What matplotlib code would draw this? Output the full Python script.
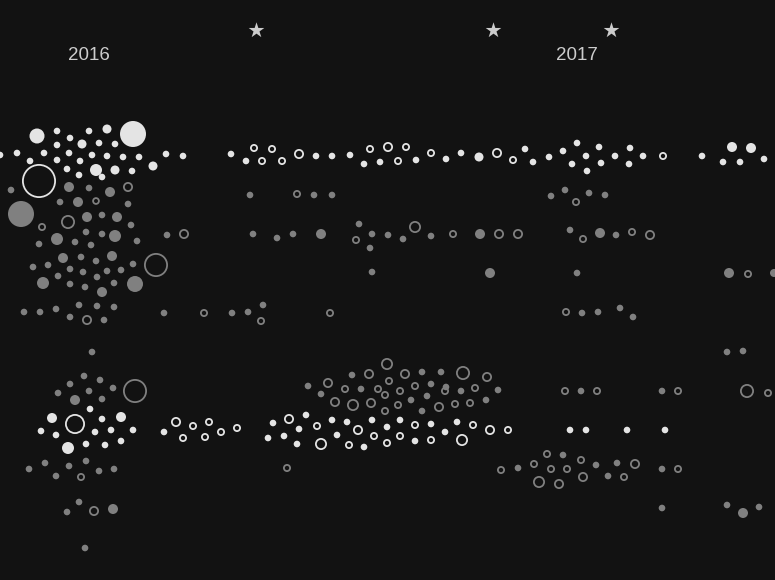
import numpy as np
import matplotlib
matplotlib.use("Agg")
import matplotlib.pyplot as plt

# ---- data: (x, y, radius) in chart units ----
years = ["2016", "2017"]
year_x = [89, 577]
star_x = [256, 493, 611]

white_filled = [
    (0, 155, 3.3), (17, 153, 3.3), (30, 161, 3.3), (37, 136, 7.5), (44, 153, 3.3),
    (57, 131, 3.3), (57, 145, 3.3), (57, 160, 3.3), (70, 138, 3.3), (69, 153, 3.3),
    (82, 144, 4.5), (80, 161, 3.3), (67, 169, 3.3), (79, 175, 3.3), (89, 131, 3.3),
    (99, 143, 3.3), (92, 155, 3.3), (96, 170, 6), (102, 177, 3.3), (107, 129, 4.5),
    (115, 144, 3.3), (107, 156, 3.3), (115, 170, 4.5), (123, 157, 3.3), (132, 171, 3.3),
    (133, 134, 13), (139, 157, 3.3), (153, 166, 4.5), (166, 154, 3.3), (183, 156, 3.3),
    (231, 154, 3.3), (246, 161, 3.3), (316, 156, 3.3), (332, 156, 3.3), (350, 155, 3.3),
    (364, 164, 3.3), (380, 162, 3.3), (416, 160, 3.3), (446, 159, 3.3), (461, 153, 3.3),
    (479, 157, 4.5), (525, 149, 3.3), (533, 162, 3.3), (549, 157, 3.3), (563, 151, 3.3),
    (577, 143, 3.3), (572, 164, 3.3), (586, 156, 3.3), (587, 171, 3.3), (599, 147, 3.3),
    (601, 163, 3.3), (615, 156, 3.3), (630, 148, 3.3), (629, 164, 3.3), (643, 156, 3.3),
    (702, 156, 3.3), (732, 147, 5), (751, 148, 5), (723, 162, 3.3), (740, 162, 3.3),
    (764, 159, 3.3),
    (90, 409, 3.3), (52, 418, 5), (102, 419, 3.3), (121, 417, 5), (41, 431, 3.3),
    (56, 435, 3.3), (95, 432, 3.3), (111, 430, 3.3), (133, 430, 3.3), (68, 448, 6),
    (86, 444, 3.3), (105, 445, 3.3), (121, 441, 3.3), (164, 432, 3.3),
    (268, 438, 3.3), (273, 423, 3.3), (284, 436, 3.3), (299, 429, 3.3), (297, 444, 3.3),
    (306, 415, 3.3), (332, 420, 3.3), (337, 435, 3.3), (347, 422, 3.3), (364, 447, 3.3),
    (372, 420, 3.3), (387, 427, 3.3), (400, 420, 3.3), (415, 441, 3.3), (431, 424, 3.3),
    (445, 432, 3.3), (457, 422, 3.3), (570, 430, 3.3), (586, 430, 3.3), (627, 430, 3.3),
    (665, 430, 3.3),
]

white_outline = [
    (39, 181, 17), (254, 148, 4), (262, 161, 4), (272, 149, 4), (282, 161, 4),
    (299, 154, 5), (370, 149, 4), (388, 147, 5), (406, 147, 4), (398, 161, 4),
    (431, 153, 4), (497, 153, 5), (513, 160, 4), (663, 156, 4),
    (75, 424, 10), (176, 422, 5), (193, 426, 4), (183, 438, 4), (209, 422, 4),
    (205, 437, 4), (221, 432, 4), (237, 428, 4),
    (289, 419, 5), (317, 426, 4), (321, 444, 6), (349, 445, 4), (358, 430, 5),
    (374, 436, 4), (387, 443, 4), (400, 436, 4), (415, 425, 4), (431, 440, 4),
    (462, 440, 6), (473, 425, 4), (490, 430, 5), (508, 430, 4),
]

gray_filled = [
    (11, 190, 3.3), (69, 187, 5), (89, 188, 3.3), (110, 192, 5), (60, 202, 3.3),
    (78, 202, 5), (128, 204, 3.3), (21, 214, 13), (87, 217, 5), (102, 215, 3.3),
    (117, 217, 5), (131, 225, 3.3),
    (250, 195, 3.3), (314, 195, 3.3), (332, 195, 3.3), (551, 196, 3.3), (565, 190, 3.3),
    (589, 193, 3.3), (605, 195, 3.3),
    (86, 232, 3.3), (102, 234, 3.3), (115, 236, 6), (57, 239, 6), (39, 244, 3.3),
    (75, 242, 3.3), (91, 245, 3.3), (137, 241, 3.3), (167, 235, 3.3), (63, 258, 5),
    (81, 257, 3.3), (96, 261, 3.3), (112, 256, 5), (33, 267, 3.3), (48, 265, 3.3),
    (70, 269, 3.3), (83, 272, 3.3), (107, 271, 3.3), (121, 270, 3.3), (133, 264, 3.3),
    (43, 283, 6), (58, 276, 3.3), (70, 284, 3.3), (85, 287, 3.3), (97, 277, 3.3),
    (102, 292, 5), (114, 283, 3.3), (135, 284, 8),
    (253, 234, 3.3), (277, 238, 3.3), (293, 234, 3.3), (321, 234, 5), (359, 224, 3.3),
    (372, 234, 3.3), (388, 235, 3.3), (403, 239, 3.3), (431, 236, 3.3), (480, 234, 5),
    (370, 248, 3.3), (570, 230, 3.3), (600, 233, 5), (616, 235, 3.3),
    (372, 272, 3.3), (490, 273, 5), (577, 273, 3.3), (729, 273, 5), (774, 273, 4),
    (24, 312, 3.3), (40, 312, 3.3), (56, 309, 3.3), (70, 317, 3.3), (79, 305, 3.3),
    (97, 306, 3.3), (104, 320, 3.3), (114, 307, 3.3), (164, 313, 3.3), (232, 313, 3.3),
    (248, 312, 3.3), (263, 305, 3.3), (582, 313, 3.3), (598, 312, 3.3), (620, 308, 3.3),
    (633, 317, 3.3),
    (92, 352, 3.3), (727, 352, 3.3), (743, 351, 3.3),
    (84, 376, 3.3), (70, 384, 3.3), (100, 380, 3.3), (58, 393, 3.3), (89, 391, 3.3),
    (113, 388, 3.3), (75, 400, 5), (102, 399, 3.3),
    (308, 386, 3.3), (321, 394, 3.3), (352, 375, 3.3), (361, 389, 3.3), (411, 400, 3.3),
    (422, 372, 3.3), (427, 396, 3.3), (422, 411, 3.3), (431, 384, 3.3), (441, 372, 3.3),
    (446, 387, 3.3), (461, 391, 3.3), (486, 400, 3.3), (498, 390, 3.3),
    (581, 391, 3.3), (662, 391, 3.3),
    (29, 469, 3.3), (45, 463, 3.3), (56, 476, 3.3), (69, 466, 3.3), (86, 461, 3.3),
    (99, 471, 3.3), (114, 469, 3.3), (518, 468, 3.3), (563, 455, 3.3), (596, 465, 3.3),
    (617, 463, 3.3), (608, 476, 3.3), (662, 469, 3.3),
    (79, 502, 3.3), (67, 512, 3.3), (113, 509, 5), (662, 508, 3.3), (727, 505, 3.3),
    (743, 513, 5), (759, 507, 3.3),
    (85, 548, 3.3),
]

gray_outline = [
    (128, 187, 5), (96, 201, 3.8), (68, 222, 7), (42, 227, 4), (297, 194, 4),
    (576, 202, 4),
    (184, 234, 5), (156, 265, 12), (356, 240, 4), (415, 227, 6), (453, 234, 4),
    (499, 234, 5), (518, 234, 5), (583, 239, 4), (632, 232, 4), (650, 235, 5),
    (748, 274, 4),
    (87, 320, 5), (204, 313, 4), (261, 321, 4), (330, 313, 4), (566, 312, 4),
    (135, 391, 12),
    (328, 383, 5), (335, 402, 5), (345, 389, 4), (353, 405, 6), (369, 374, 5),
    (371, 403, 5), (378, 389, 4), (387, 364, 6), (389, 381, 4), (385, 395, 4),
    (385, 411, 4), (400, 391, 4), (398, 405, 4), (405, 374, 5), (415, 386, 4),
    (439, 407, 5), (445, 391, 4), (455, 404, 4), (463, 373, 7), (470, 403, 4),
    (475, 388, 4), (487, 377, 5),
    (565, 391, 4), (597, 391, 4), (678, 391, 4), (747, 391, 7), (768, 393, 4),
    (81, 477, 4), (287, 468, 4), (501, 470, 4), (534, 464, 4), (547, 454, 4),
    (551, 469, 4), (567, 469, 4), (581, 460, 4), (635, 464, 5), (624, 477, 4),
    (539, 482, 6), (559, 484, 5), (583, 477, 5), (678, 469, 4),
    (94, 511, 5),
]

# ---- styling ----
BG = "#121212"
WHITE = "#e4e4e4"
GRAY = "#808080"
TEXT = "#cccccc"

W, H, DPI = 7.75, 5.8, 100
fig = plt.figure(figsize=(W, H), dpi=DPI, facecolor=BG)
ax = fig.add_axes([0, 0, 1, 1])
ax.set_facecolor(BG)
ax.set_xlim(0, 775)
ax.set_ylim(580, 0)
ax.axis("off")

px2pt = 72.0 / DPI


def draw(points, color, filled, lw_px=1.8):
    arr = np.array(points, dtype=float)
    x, y, r = arr[:, 0], arr[:, 1], arr[:, 2]
    if filled:
        s = (2 * r * px2pt) ** 2
        ax.scatter(x, y, s=s, c=color, linewidths=0, zorder=3)
    else:
        d = 2 * r - lw_px
        s = (d * px2pt) ** 2
        ax.scatter(x, y, s=s, facecolors="none", edgecolors=color,
                   linewidths=lw_px * px2pt, zorder=3)


draw(gray_filled, GRAY, True)
draw(gray_outline, GRAY, False)
draw(white_filled, WHITE, True)
draw(white_outline, WHITE, False)

# stars
ax.scatter(star_x, [30] * len(star_x), marker="*", s=140, c=TEXT, linewidths=0, zorder=3)

# year labels
for lab, xv in zip(years, year_x):
    ax.text(xv, 56, lab, color=TEXT, fontsize=13.5, ha="center", va="center",
            family=["Liberation Sans", "DejaVu Sans"])

fig.savefig("out.png", dpi=DPI, facecolor=BG)
